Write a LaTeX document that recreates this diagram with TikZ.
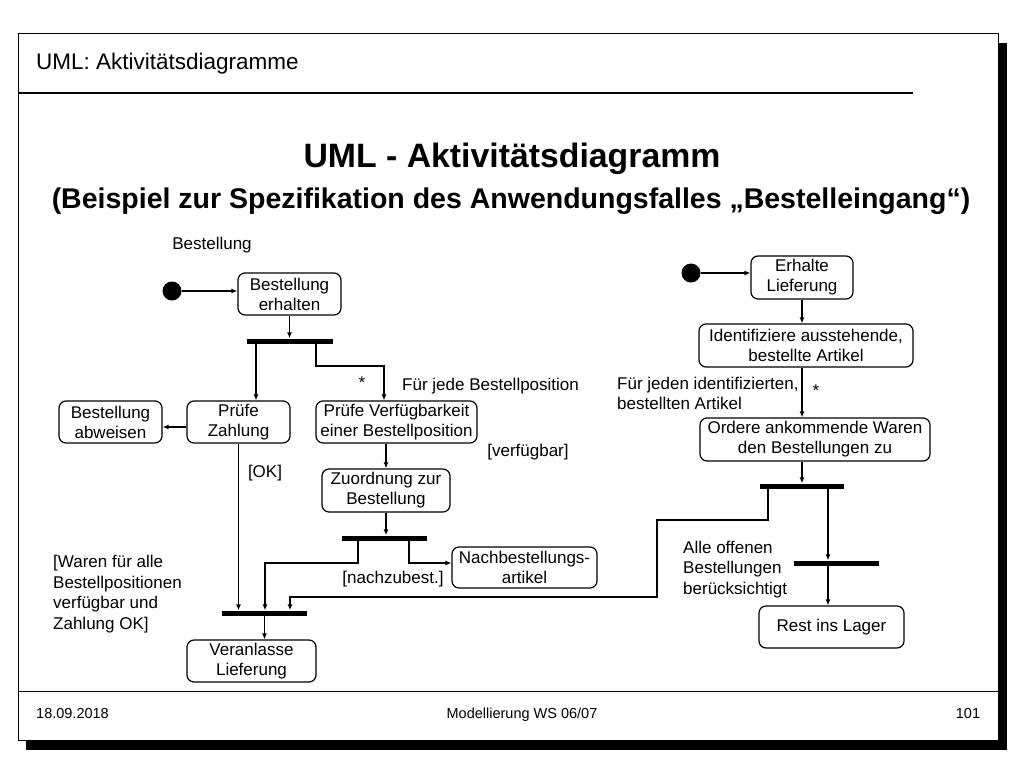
\documentclass[tikz,border=0pt]{standalone}
\usepackage{fontspec}
\setmainfont{Liberation Sans}
\usetikzlibrary{arrows.meta,calc}
\begin{document}
\begin{tikzpicture}[x=1pt,y=-1pt,
  act/.style={draw,rounded corners=7pt,line width=1.2pt,inner sep=0pt,align=center,
    font=\fontsize{17}{20}\selectfont},
  bar/.style={fill=black,inner sep=0pt,minimum width=85pt,minimum height=5pt},
  start/.style={circle,fill=black,inner sep=0pt,minimum size=19pt},
  flow/.style={line width=1.2pt,-{Latex[length=6pt,width=5pt]}},
  lbl/.style={font=\fontsize{17}{20.5}\selectfont,inner sep=0pt},
  foot/.style={inner sep=0pt,font=\fontsize{14.5}{17}\selectfont},
]
\useasboundingbox (0,0) rectangle (1024,768);
% slide frame
\fill[black] (26,43) rectangle (1007,750);
\draw[fill=white,line width=1pt] (18,34) rectangle (998,740);
\draw[line width=1.2pt] (18,93) -- (913,93);
\draw[line width=1pt] (18,691) -- (998,691);
\node[anchor=base west,inner sep=0pt,font=\fontsize{22.5}{27}\selectfont] (hdr) at (36,69) {UML: Aktivitätsdiagramme};
\node[inner sep=0pt,font=\fontsize{33.8}{40}\bfseries] (title) at (512,159) {UML - Aktivitätsdiagramm};
\node[inner sep=0pt,font=\fontsize{28.5}{34}\bfseries] (subtitle) at (511,201) {(Beispiel zur Spezifikation des Anwendungsfalles „Bestelleingang“)};
\node[foot,anchor=base west] (date) at (36,718) {18.09.2018};
\node[foot,anchor=base] (course) at (522,718) {Modellierung WS 06/07};
\node[foot,anchor=base] (page) at (968,718) {101};

% left activity
\node[lbl] (lbest) at (212,245) {Bestellung};
\node[start] (i1) at (172,291) {};
\node[act,minimum width=103pt,minimum height=42pt] (erh) at (289.5,294) {Bestellung\\erhalten};
\node[bar,minimum width=86pt] (f1) at (290,341) {};
\node[act,minimum width=103pt,minimum height=42pt] (abw) at (110.5,422) {Bestellung\\abweisen};
\node[act,minimum width=103pt,minimum height=42pt] (pz) at (238.5,422) {Prüfe\\Zahlung};
\node[act,minimum width=161pt,minimum height=42pt] (pv) at (396.5,422) {Prüfe Verfügbarkeit\\einer Bestellposition};
\node[act,minimum width=128pt,minimum height=43pt] (zu) at (386,490.5) {Zuordnung zur\\Bestellung};
\node[bar] (f2) at (384.5,538) {};
\node[act,minimum width=145pt,minimum height=41pt] (nb) at (524.5,567.5) {Nachbestellungs-\\artikel};
\node[bar] (j1) at (264.5,613) {};
\node[act,minimum width=129pt,minimum height=42pt] (ver) at (251.5,661) {Veranlasse\\Lieferung};

\node[lbl] (star1) at (362,383) {*};
\node[lbl,anchor=west] (fjb) at (402,386) {Für jede Bestellposition};
\node[lbl] (gverf) at (528,452) {[verfügbar]};
\node[lbl] (gok) at (265,473) {[OK]};
\node[lbl] (gnach) at (393,579) {[nachzubest.]};
\node[lbl,anchor=west,align=left] (gwaren) at (53,594) {[Waren für alle\\Bestellpositionen\\verfügbar und\\Zahlung OK]};

% right activity
\node[start] (i2) at (691,273) {};
\node[act,minimum width=102pt,minimum height=43pt] (erl) at (802,277.5) {Erhalte\\Lieferung};
\node[act,minimum width=214pt,minimum height=43pt] (idt) at (806,345.5) {Identifiziere ausstehende,\\bestellte Artikel};
\node[act,minimum width=230pt,minimum height=43pt] (ord) at (815,439.5) {Ordere ankommende Waren\\den Bestellungen zu};
\node[bar,minimum width=84pt] (f3) at (802,486) {};
\node[bar] (j2) at (836.5,563) {};
\node[act,minimum width=145pt,minimum height=42pt] (rest) at (831.5,627) {Rest ins Lager};

\node[lbl,anchor=west,align=left] (fji) at (617,393.5) {Für jeden identifizierten,\\bestellten Artikel};
\node[lbl] (star2) at (816,391) {*};
\node[lbl,anchor=west,align=left] (galle) at (683,569.5) {Alle offenen\\Bestellungen\\berücksichtigt};

% bend points
\coordinate (b1a) at (316,366);
\coordinate (b1b) at (384,366);
\coordinate (b2a) at (358,563);
\coordinate (b2b) at (265,563);
\coordinate (b3a) at (409,563);
\coordinate (b4a) at (768,520);
\coordinate (b4b) at (657,520);
\coordinate (b4c) at (657,597);
\coordinate (b4d) at (290,597);

% connectors left
\draw[flow] (i1) -- (i1 -| erh.west);
\draw[flow] (erh.south) -- (erh.south |- f1.north);
\draw[flow] ([xshift=17.5pt]pz.north |- f1.south) -- ([xshift=17.5pt]pz.north);
\draw[flow] (b1a |- f1.south) -- (b1a) -- (b1b) -- (b1b |- pv.north);
\draw[flow] ([yshift=-5pt]pz.west) -- ([yshift=-5pt]abw.east);
\draw[flow] (pz.south) -- (pz.south |- j1.north);
\draw[flow] (zu.north |- pv.south) -- (zu.north);
\draw[flow] (zu.south) -- (zu.south |- f2.north);
\draw[flow] (b2a |- f2.south) -- (b2a) -- (b2b) -- (b2b |- j1.north);
\draw[flow] (b3a |- f2.south) -- (b3a) -- (b3a -| nb.west);
\draw[flow] (j1.south) -- (j1.south |- ver.north);

% connectors right
\draw[flow] (i2) -- (i2 -| erl.west);
\draw[flow] (erl.south) -- (erl.south |- idt.north);
\draw[flow] (erl.south |- idt.south) -- (erl.south |- ord.north);
\draw[flow] (erl.south |- ord.south) -- (erl.south |- f3.north);
\draw[flow] (b4a |- f3.south) -- (b4a) -- (b4b) -- (b4c) -- (b4d) -- (b4d |- j1.north);
\draw[flow] ([xshift=26pt]f3.south) -- ([xshift=26pt]f3.south |- j2.north);
\draw[flow] ([xshift=26pt]f3.south |- j2.south) -- ([xshift=26pt]f3.south |- rest.north);
\end{tikzpicture}
\end{document}
